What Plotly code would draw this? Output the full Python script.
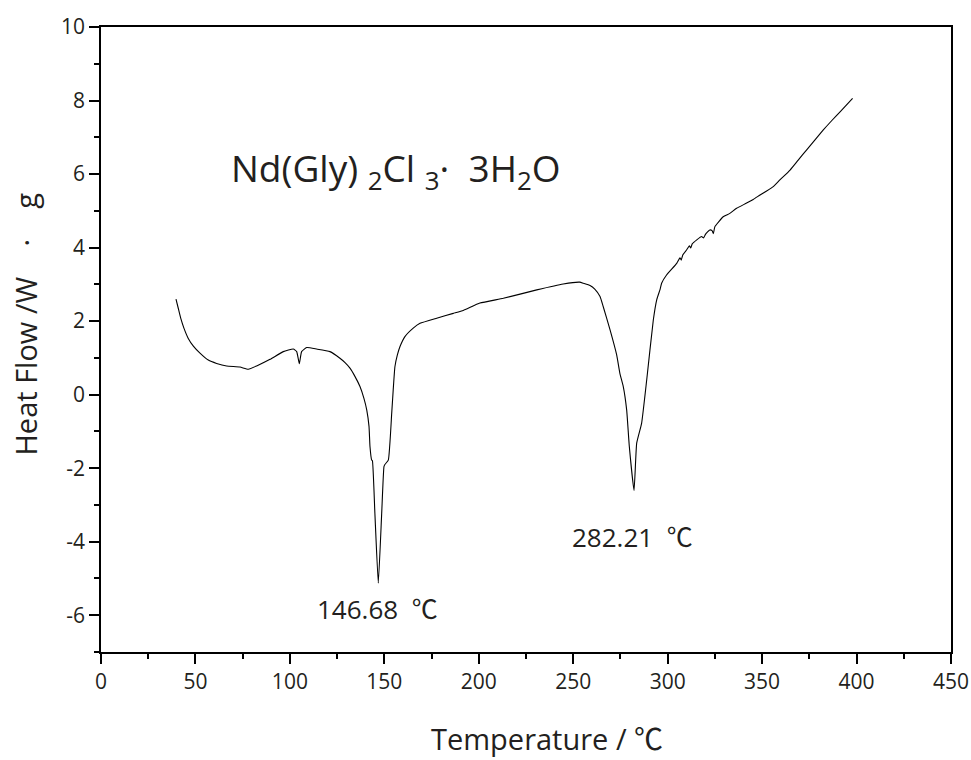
import plotly.graph_objects as go

# DSC curve of Nd(Gly)2Cl3·3H2O
temperature = [39.7, 40.9, 42.2, 43.9, 46.2, 48.9, 52.4, 56.8, 61.2, 66.5, 73.6, 78.0,
               82.4, 89.5, 96.5, 101.8, 103.6, 105.0, 106.2, 108.9, 114.2, 121.2, 126.5,
               129.2, 131.8, 134.5, 137.1, 139.2, 140.7, 141.9, 142.4, 143.3, 143.7,
               145.0, 146.8, 148.6, 149.8, 150.3, 152.1, 153.9, 154.7, 155.6, 156.9,
               158.3, 160.9, 165.3, 168.9, 177.7, 186.5, 191.8, 200.6, 213.0, 230.7,
               244.7, 253.5, 255.3, 258.9, 261.4, 264.2, 265.9, 269.5, 273.0, 274.7,
               276.5, 278.3, 279.7, 282.2, 283.6, 286.2, 288.9, 292.4, 294.2, 295.9,
               296.8, 299.5, 304.8, 306.5, 307.2, 308.0, 310.1, 311.5, 312.2, 313.0,
               315.4, 318.0, 319.0, 320.0, 322.3, 323.5, 324.2, 325.0, 329.4, 332.9,
               336.5, 341.8, 345.3, 348.9, 352.4, 355.9, 359.4, 364.8, 369.1, 373.6,
               378.0, 382.4, 386.8, 391.4, 397.9]
heat_flow = [2.60, 2.35, 2.08, 1.81, 1.53, 1.32, 1.13, 0.94, 0.85, 0.78, 0.75, 0.69,
             0.78, 0.96, 1.17, 1.24, 1.17, 0.84, 1.17, 1.28, 1.24, 1.17, 0.99,
             0.87, 0.72, 0.49, 0.22, -0.10, -0.42, -0.87, -1.41, -1.78, -1.80,
             -3.23, -5.13, -3.23, -1.96, -1.90, -1.78, -0.51, 0.13, 0.76, 1.08,
             1.31, 1.58, 1.81, 1.94, 2.08, 2.21, 2.29, 2.49, 2.62, 2.85,
             3.01, 3.06, 3.03, 2.97, 2.87, 2.67, 2.39, 1.76, 1.08, 0.58,
             0.22, -0.42, -1.41, -2.61, -1.32, -0.78, 0.40, 2.03, 2.58, 2.85,
             3.03, 3.26, 3.57, 3.72, 3.66, 3.80, 3.94, 4.05, 3.99, 4.10,
             4.21, 4.30, 4.26, 4.36, 4.48, 4.46, 4.38, 4.57, 4.84, 4.93,
             5.07, 5.21, 5.31, 5.43, 5.54, 5.66, 5.84, 6.11, 6.38, 6.66,
             6.93, 7.20, 7.45, 7.70, 8.06]

x_ticks = [0, 50, 100, 150, 200, 250, 300, 350, 400, 450]
x_tick_labels = ["0", "50", "100", "150", "200", "250", "300", "350", "400", "450"]
y_ticks = [-6, -4, -2, 0, 2, 4, 6, 8, 10]
y_tick_labels = ["-6", "-4", "-2", "0", "2", "4", "6", "8", "10"]

NB = "\u00a0"
peak_labels = ["146.68" + NB * 2 + "℃", "282.21" + NB * 2 + "℃"]
peak_label_x = [146.4, 281.3]
peak_label_y = [-5.83, -3.88]

compound = "Nd(Gly) <sub>2</sub>Cl <sub>3</sub>·  3H<sub>2</sub>O"
x_title = "Temperature / ℃"
y_title = "Heat Flow /W" + NB * 4 + "·" + NB * 4 + "g"

FONT = "Open Sans, Noto Sans CJK JP, sans-serif"
TXT = "#231f20"

fig = go.Figure()
fig.add_trace(go.Scatter(x=temperature, y=heat_flow, mode="lines",
                         line=dict(color="black", width=1.1, shape="spline", smoothing=0.4),
                         showlegend=False))

axis_common = dict(showgrid=False, zeroline=False, showline=True, linecolor="black",
                   linewidth=1.5, mirror=True, ticks="outside", ticklen=10, tickwidth=1.5,
                   tickcolor="black", automargin=False,
                   tickfont=dict(family=FONT, size=21, color=TXT))

fig.update_xaxes(range=[0, 450], tickvals=x_ticks, ticktext=x_tick_labels,
                 minor=dict(dtick=25, ticks="outside", ticklen=5, tickwidth=1.5, tickcolor="black"),
                 **axis_common)
fig.update_yaxes(range=[-7, 10], tickvals=y_ticks, ticktext=y_tick_labels,
                 minor=dict(dtick=1, ticks="outside", ticklen=5, tickwidth=1.5, tickcolor="black"),
                 **axis_common)

# axis titles (placed as annotations to match the original's offsets)
fig.add_annotation(xref="paper", yref="paper", x=0.5247, y=-0.1376, text=x_title,
                   showarrow=False, xanchor="center", yanchor="middle",
                   font=dict(family=FONT, size=29, color=TXT))
fig.add_annotation(xref="paper", yref="paper", x=-0.0894, y=0.524, text=y_title,
                   textangle=-90, showarrow=False, xanchor="center", yanchor="middle",
                   font=dict(family=FONT, size=29, color=TXT))

for txt, px, py in zip(peak_labels, peak_label_x, peak_label_y):
    fig.add_annotation(x=px, y=py, text=txt, showarrow=False, xanchor="center", yanchor="middle",
                       font=dict(family=FONT, size=26, color=TXT))

fig.add_annotation(x=156.4, y=6.12, text=compound, showarrow=False, xanchor="center",
                   yanchor="middle", font=dict(family=FONT, size=37, color=TXT))

fig.update_layout(width=971, height=760, margin=dict(l=101, r=20, t=27, b=108),
                  plot_bgcolor="white", paper_bgcolor="white")

fig.write_html("out.html")
